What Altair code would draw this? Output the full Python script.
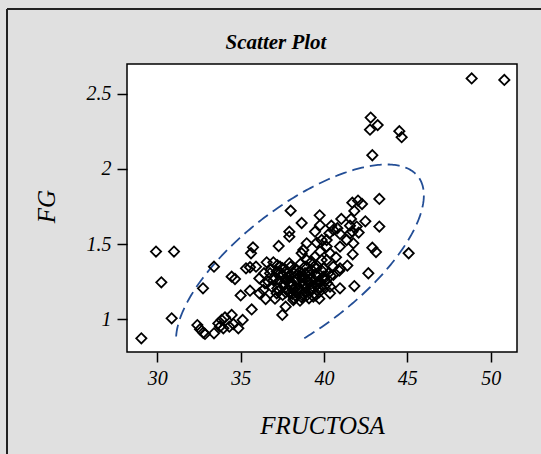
import altair as alt
import numpy as np
import pandas as pd

# FRUCTOSA values (x) and FG values (y)
fructosa = [
    48.86, 50.82, 42.80, 43.22, 42.76, 44.52, 44.66, 42.90, 43.32, 41.70,
    42.04, 42.28, 41.82, 41.04, 41.62, 42.48, 43.32, 45.08, 42.90, 43.12,
    42.66, 41.82, 41.56, 41.70, 42.08, 41.56, 40.96, 41.76, 41.72, 41.40,
    40.92, 40.96, 40.36, 40.72, 38.00, 39.74, 38.66, 39.76, 37.92, 37.92,
    37.28, 35.74, 35.62, 40.44, 40.56, 40.32, 40.16, 39.56, 38.96, 38.76,
    38.66, 39.76, 39.26, 39.86, 40.36, 40.56, 39.96, 33.40, 32.74, 34.46,
    34.66, 35.32, 35.56, 35.92, 36.56, 36.96, 36.12, 36.40, 35.00, 35.56,
    36.12, 36.36, 36.50, 37.06, 37.70, 37.50, 35.66, 37.92, 36.76, 37.16,
    37.46, 37.76, 38.16, 38.56, 38.86, 39.16, 39.56, 39.96, 40.26, 36.96,
    37.32, 37.66, 38.00, 38.36, 38.72, 39.06, 39.40, 39.76, 40.06, 36.86,
    37.20, 37.56, 37.86, 38.26, 38.56, 38.92, 39.26, 39.66, 40.00, 37.16,
    37.52, 37.96, 38.32, 38.66, 39.00, 39.36, 39.72, 38.16, 38.56, 37.76,
    36.66, 36.46, 32.40, 32.56, 32.76, 32.86, 33.40, 33.66, 33.86, 34.06,
    33.76, 33.96, 34.46, 34.56, 34.86, 35.12, 34.32, 29.92, 31.00, 30.24,
    30.86, 29.04, 38.96, 39.46, 40.16, 40.96, 40.56, 40.36, 38.16, 37.36,
    38.86, 39.56, 38.56, 39.26, 37.96, 40.96, 40.16, 41.36, 39.46, 39.86,
    41.96, 40.80,
    37.40, 37.90, 38.30, 38.70, 39.10, 39.50, 39.90, 37.60, 38.00, 38.40,
    38.80, 39.20, 39.60, 40.00, 37.30, 37.70, 38.10, 38.50, 38.90, 39.30,
    39.70, 38.20, 38.70, 39.10, 39.50, 37.00, 36.80, 37.20, 38.00, 38.60,
    39.40, 40.20, 40.40, 39.80, 38.30, 37.80, 39.00, 38.40, 39.20, 37.50,
]
fg = [
    2.60, 2.59, 2.34, 2.29, 2.26, 2.25, 2.21, 2.09, 1.80, 1.775,
    1.789, 1.766, 1.720, 1.667, 1.667, 1.651, 1.616, 1.439, 1.476, 1.447,
    1.306, 1.221, 1.622, 1.582, 1.576, 1.571, 1.567, 1.505, 1.432, 1.357,
    1.323, 1.206, 1.173, 1.412, 1.722, 1.691, 1.640, 1.625, 1.582, 1.549,
    1.487, 1.478, 1.439, 1.622, 1.594, 1.571, 1.527, 1.509, 1.505, 1.461,
    1.439, 1.450, 1.383, 1.394, 1.439, 1.350, 1.339, 1.350, 1.206, 1.283,
    1.268, 1.339, 1.346, 1.350, 1.379, 1.379, 1.272, 1.306, 1.159, 1.190,
    1.173, 1.195, 1.135, 1.137, 1.084, 1.029, 1.066, 1.372, 1.306, 1.317,
    1.295, 1.306, 1.310, 1.315, 1.306, 1.295, 1.288, 1.284, 1.306, 1.261,
    1.257, 1.266, 1.250, 1.261, 1.257, 1.244, 1.261, 1.250, 1.257, 1.217,
    1.206, 1.221, 1.195, 1.213, 1.195, 1.206, 1.195, 1.206, 1.217, 1.173,
    1.162, 1.173, 1.155, 1.146, 1.162, 1.151, 1.137, 1.128, 1.124, 1.195,
    1.250, 1.239, 0.962, 0.934, 0.911, 0.903, 0.907, 0.973, 0.996, 1.013,
    0.951, 0.940, 1.029, 0.969, 0.940, 0.996, 0.951, 1.450, 1.450, 1.246,
    1.007, 0.874, 1.394, 1.416, 1.394, 1.339, 1.295, 1.217, 1.195, 1.350,
    1.350, 1.339, 1.283, 1.328, 1.283, 1.483, 1.483, 1.527, 1.582, 1.527,
    1.616, 1.605,
    1.31, 1.29, 1.33, 1.28, 1.32, 1.30, 1.32, 1.24, 1.22, 1.27,
    1.23, 1.27, 1.23, 1.27, 1.19, 1.18, 1.17, 1.21, 1.18, 1.22,
    1.18, 1.14, 1.16, 1.14, 1.16, 1.28, 1.33, 1.36, 1.35, 1.37,
    1.35, 1.24, 1.29, 1.21, 1.19, 1.26, 1.26, 1.30, 1.19, 1.34,
]

x_ticks = [30, 35, 40, 45, 50]
y_ticks = [1, 1.5, 2, 2.5]
title_text = ["Scatter Plot"]

pts = pd.DataFrame({"FRUCTOSA": fructosa, "FG": fg})

# 95% prediction ellipse computed from the data
xy = np.column_stack([fructosa, fg])
n = len(xy)
mean = xy.mean(axis=0)
cov = np.cov(xy, rowvar=False)
v = n - 2
f95 = (v / 2.0) * (0.05 ** (-2.0 / v) - 1.0)
c = np.sqrt(2.0 * (n - 1) * (n + 1) / (n * (n - 2)) * f95)
L = np.linalg.cholesky(cov)
t = np.linspace(0, 2 * np.pi, 361)
circ = np.vstack([np.cos(t), np.sin(t)])
ell = (mean[:, None] + c * L @ circ).T
ymin = min(fg)
keep = ell[:, 1] >= ymin
start = int(np.argmin(ell[:, 1]))
order = np.r_[start:len(ell), 0:start]
ell = ell[order]
keep = keep[order]
ell_df = pd.DataFrame({"ex": ell[keep, 0], "ey": ell[keep, 1],
                       "i": np.arange(keep.sum())})

serif = "Liberation Serif"
xs = alt.Scale(domain=[28.18, 51.58], nice=False, zero=False)
ys = alt.Scale(domain=[0.783, 2.696], nice=False, zero=False)

x_axis = alt.Axis(values=x_ticks, format="~g", title="FRUCTOSA", grid=False, domain=False,
                  tickColor="black", tickWidth=1.5, tickSize=10,
                  labelFont=serif, labelFontStyle="italic", labelFontSize=20,
                  labelColor="black", labelPadding=6,
                  titleFont=serif, titleFontStyle="italic", titleFontWeight="normal",
                  titleFontSize=25, titleColor="black",
                  titleBaseline="middle", titleY=73)
y_axis = alt.Axis(values=y_ticks, format="~g", title="FG", grid=False, domain=False,
                  tickColor="black", tickWidth=1.5, tickSize=10,
                  labelFont=serif, labelFontStyle="italic", labelFontSize=20,
                  labelColor="black", labelPadding=6,
                  titleFont=serif, titleFontStyle="italic", titleFontWeight="normal",
                  titleFontSize=25, titleColor="black",
                  titleBaseline="middle", titleX=-81, titleY=142)

points = alt.Chart(pts).mark_point(
    shape="diamond", filled=False, color="black", size=105, strokeWidth=1.8, opacity=1
).encode(
    x=alt.X("FRUCTOSA:Q", scale=xs, axis=x_axis),
    y=alt.Y("FG:Q", scale=ys, axis=y_axis),
)

ellipse = alt.Chart(ell_df).mark_line(
    color="#234e96", strokeWidth=1.8, strokeDash=[12, 6]
).encode(
    x=alt.X("ex:Q", scale=xs),
    y=alt.Y("ey:Q", scale=ys),
    order="i:Q",
)

title = alt.Chart(pd.DataFrame({"t": title_text})).mark_text(
    font=serif, fontStyle="italic", fontWeight="bold", fontSize=21,
    color="black", align="center", baseline="middle", clip=False
).encode(text="t:N", x=alt.value(149), y=alt.value(-21))

border_left = alt.Chart(pts).mark_rule(color="#222222", strokeWidth=1.5, clip=False).encode(
    x=alt.value(-120), y=alt.value(-55), y2=alt.value(400)
)
border_top = alt.Chart(pts).mark_rule(color="#222222", strokeWidth=1.5, clip=False).encode(
    x=alt.value(-120), x2=alt.value(420), y=alt.value(-55)
)

chart = alt.layer(border_left, border_top, title, ellipse, points).properties(
    width=390, height=288,
    autosize=alt.AutoSizeParams(type="none"),
    padding={"left": 127, "top": 64, "right": 24, "bottom": 102},
    background="#e0e0e0",
).configure_view(
    stroke="black", strokeWidth=1.5, fill="white"
)

chart.save("out.html", embed_options={"renderer": "svg", "actions": False})
